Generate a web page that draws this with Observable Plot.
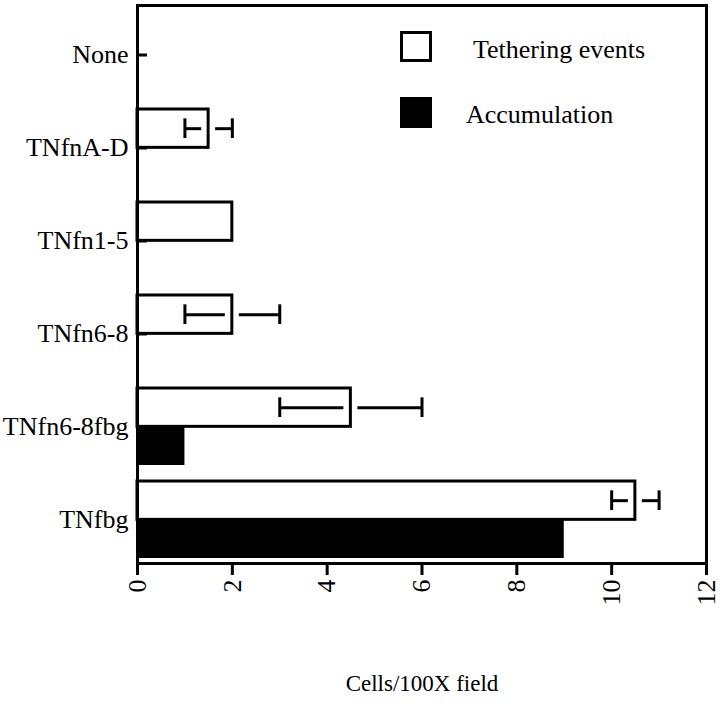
<!DOCTYPE html>
<html><head><meta charset="utf-8">
<script src="https://cdn.jsdelivr.net/npm/d3@7"></script>
<script src="https://cdn.jsdelivr.net/npm/@observablehq/plot@0.6"></script>
<style>
body{margin:0;background:#fff;}
#wrap{position:relative;width:720px;height:704px;font-family:"Liberation Serif","Times New Roman",serif;color:#000;}
.sw{position:absolute;box-sizing:border-box;width:32px;height:31px;border:3px solid #000;background:#fff;}
.sw.fill{background:#000;}
.lt{position:absolute;font-size:26px;line-height:26px;white-space:nowrap;}
</style></head><body><div id="wrap"></div>
<script>
const categories = ["None","TNfnA-D","TNfn1-5","TNfn6-8","TNfn6-8fbg","TNfbg"];
const tethering = [null,1.5,2,2,4.5,10.5];
const tetheringErr = [null,0.5,null,1,1.5,0.5];
const accumulation = [null,null,null,null,1,9];
const xTicks = [0,2,4,6,8,10,12];
const seriesNames = ["Tethering events","Accumulation"];
const xLabel = "Cells/100X field";

const tData = categories.map((c,i)=>({cat:c, v:tethering[i], e:tetheringErr[i]})).filter(d=>d.v!=null);
const aData = categories.map((c,i)=>({cat:c, v:accumulation[i]})).filter(d=>d.v!=null);
const eData = tData.filter(d=>d.e!=null);

const W = 720, H = 704, mT = 5, mB = 141, mL = 137, mR = 14;
const yRange = [11, H - mB];
const pi = 0.176, po = 0.03;
const step = (yRange[1]-yRange[0])/(categories.length - pi + 2*po);
const bw = step*(1-pi);
const capHalf = 10, gap = 7;

const plot = Plot.plot({
  width: W, height: H,
  marginTop: mT, marginBottom: mB, marginLeft: mL, marginRight: mR,
  style: {fontFamily: '"Liberation Serif","Times New Roman",serif', fontSize: "23px", color: "#000", background: "#fff"},
  x: {domain: [0,12]},
  y: {domain: categories, range: yRange, paddingInner: pi, paddingOuter: po},
  marks: [
    Plot.barX(tData, {x: "v", y: "cat", fill: "white", stroke: "black", strokeWidth: 3, insetBottom: bw/2}),
    Plot.barX(aData, {x: "v", y: "cat", fill: "black", insetTop: bw/2}),
    Plot.ruleY(eData, {y: "cat", x1: d=>d.v-d.e, x2: "v", insetRight: gap, dy: -bw/4, stroke: "black", strokeWidth: 3}),
    Plot.ruleY(eData, {y: "cat", x1: "v", x2: d=>d.v+d.e, insetLeft: gap, dy: -bw/4, stroke: "black", strokeWidth: 3}),
    Plot.tickX(eData, {x: d=>d.v-d.e, y: "cat", insetTop: bw/4-capHalf, insetBottom: 3*bw/4-capHalf, stroke: "black", strokeWidth: 3}),
    Plot.tickX(eData, {x: d=>d.v+d.e, y: "cat", insetTop: bw/4-capHalf, insetBottom: 3*bw/4-capHalf, stroke: "black", strokeWidth: 3}),
    Plot.frame({stroke: "black", strokeWidth: 3}),
    Plot.axisY({tickSize: -10, tickPadding: 19, strokeWidth: 3, label: null, fontSize: 26}),
    Plot.axisX({ticks: xTicks, tickSize: 12, tickRotate: -90, tickPadding: 4, strokeWidth: 3, label: null, fontSize: 26}),
    Plot.text([xLabel], {text: d=>d, frameAnchor: "bottom", dy: 127, fontSize: 23})
  ]
});
const wrap = document.getElementById("wrap");
wrap.appendChild(plot);
plot.style.position = "absolute"; plot.style.left = "0"; plot.style.top = "0";

// legend
const leg = [
  {name: seriesNames[0], cls: "sw", sx: 400, sy: 31, tx: 473, ty: 37},
  {name: seriesNames[1], cls: "sw fill", sx: 400, sy: 97, tx: 466, ty: 102}
];
leg.forEach(l=>{
  const s = document.createElement("div"); s.className = l.cls; s.style.left = l.sx+"px"; s.style.top = l.sy+"px"; wrap.appendChild(s);
  const t = document.createElement("div"); t.className = "lt"; t.textContent = l.name; t.style.left = l.tx+"px"; t.style.top = l.ty+"px"; wrap.appendChild(t);
});
</script></body></html>
